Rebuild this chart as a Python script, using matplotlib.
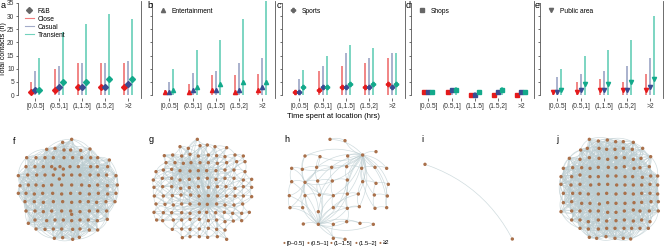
import matplotlib
matplotlib.use("Agg")
import matplotlib.pyplot as plt
import numpy as np
from matplotlib.collections import LineCollection

plt.rcParams['font.family'] = ['Liberation Sans', 'DejaVu Sans']

W, H = 667, 248

# ---- top row: contacts by time spent ----
cats = ["[0,0.5]", "(0.5,1]", "(1,1.5]", "(1.5,2]", ">2"]
venues = ["F&B", "Entertainment", "Sports", "Shops", "Public area"]
markers = ["D", "^", "P", "s", "v"]

close_med = [[1, 2, 3, 3, 3], [1, 1, 2, 1, 2], [1, 2, 3, 3, 4], [1, 1, 0, 0, 0], [1, 1, 2, 2, 2]]
close_hi = [[5, 10, 12, 12, 12], [2, 4, 7.5, 7.5, 8], [2, 9, 11, 12, 14], [1, 1, 0, 0, 0], [1, 5, 6, 5, 8]]
casual_med = [[2, 3, 3, 3, 4], [1, 2, 2, 2, 3], [1, 3, 3, 3, 3], [1, 2, 0, 1, 1], [1, 2, 2, 2, 3]]
casual_hi = [[9, 11, 12, 12, 13], [5, 8.5, 9, 12, 14], [6, 11, 16, 14, 16], [1, 2, 1, 2, 1], [7, 8, 9, 11, 14]]
trans_med = [[2, 5, 5, 6, 6], [2, 3, 4, 5, 5], [3, 3, 4, 4, 4], [1, 2, 1, 2, 1], [2, 4, 4, 5, 6]]
trans_hi = [[14, 24, 27, 31, 29], [10, 17, 21, 29, 36], [9.5, 15, 19, 18, 16], [1, 3, 1, 3, 1], [10, 15, 17, 21, 30]]

pt_cols = ["#e41a1c", "#3a4d92", "#13a98b"]
ln_cols = ["#f07c7c", "#a3abc9", "#72d2bd"]
top_lefts = [18, 152, 282, 411, 540]
panel_letters = ["a", "b", "c", "d", "e"]


def px_axes(x0, y0, x1, y1):
    return fig.add_axes([x0 / W, 1 - y1 / H, (x1 - x0) / W, (y1 - y0) / H])


fig = plt.figure(figsize=(W / 100, H / 100), dpi=100)

for k in range(5):
    ax = px_axes(top_lefts[k], 1, top_lefts[k] + 123, 98)
    x = np.arange(1, 6)
    series = [(close_med[k], close_hi[k]), (casual_med[k], casual_hi[k]), (trans_med[k], trans_hi[k])]
    for j, (med, hi) in enumerate(series):
        xs = x + (j - 1) * 0.17
        ax.vlines(xs, 0, hi, color=ln_cols[j], lw=1.3, zorder=1)
        ax.plot(xs, med, ls="none", marker=markers[k], ms=3, color=pt_cols[j], zorder=3)
    ax.set_xlim(0.25, 5.55)
    ax.set_ylim(-1.14, 35.76)
    for s in ["top", "bottom"]:
        ax.spines[s].set_visible(False)
    ax.spines["left"].set_bounds(0, 35)
    for s in ["left", "right"]:
        ax.spines[s].set_linewidth(0.6)
        ax.spines[s].set_color("#555555")
    ax.set_yticks(range(0, 36, 5))
    ax.set_xticks(x)
    ax.set_xticklabels(cats)
    ax.tick_params(length=2, width=0.5, labelsize=4.8, pad=1.5, colors="#333333")
    ax.tick_params(axis="y", length=1.8, pad=0.8)
    if k > 0:
        ax.set_yticklabels([])
    ax.plot([], [], ls="none", marker=markers[k], ms=3, color="#666666", label=venues[k])
    if k == 0:
        for j, nm in enumerate(["Close", "Casual", "Transient"]):
            ax.plot([], [], color=ln_cols[j], lw=0.8, label=nm)
    ax.legend(loc="upper left", bbox_to_anchor=(0.0, 1.0), frameon=False, fontsize=4.8,
              handlelength=1.4, handletextpad=0.6, labelspacing=0.15, borderaxespad=0.6)
    lx = 1 if k == 0 else top_lefts[k] - 5
    fig.text(lx / W, 1 - 5 / H, panel_letters[k], fontsize=6.5, va="center")

fig.text(4 / W, 1 - 49 / H, "Total contacts (n)", fontsize=5.0, rotation=90, ha="center", va="center")
fig.text(333 / W, 1 - 116 / H, "Time spent at location (hrs)", fontsize=5.5, ha="center", va="center")

# ---- bottom row: contact networks (node positions in panel units) ----
f_nodes = [(215, 43), (188, 52),
           (140, 73), (165, 70), (192, 75), (212, 75), (242, 76), (270, 72),
           (80, 98), (108, 98), (135, 98), (160, 98), (192, 98), (218, 98), (245, 98), (272, 98), (293, 98), (328, 105),
           (78, 125), (105, 125), (130, 125), (155, 125), (180, 125), (210, 125), (235, 125), (272, 125), (292, 125), (323, 125),
           (165, 132), (190, 132),
           (55, 152), (83, 150), (110, 150), (135, 150), (160, 150), (190, 150), (215, 150), (240, 150), (270, 150), (295, 150), (320, 150), (348, 152),
           (178, 162),
           (60, 182), (85, 180), (108, 180), (130, 182), (155, 180), (185, 180), (215, 180), (245, 180), (268, 182), (293, 180), (322, 182), (352, 180),
           (55, 205), (78, 205), (103, 207), (128, 205), (158, 205), (185, 207), (212, 205), (240, 205), (268, 207), (295, 205), (323, 207), (348, 205),
           (75, 230), (103, 230), (130, 232), (160, 230), (188, 230), (215, 232), (240, 230), (265, 230), (290, 232), (318, 230), (345, 230),
           (78, 258), (105, 258), (130, 260), (155, 258), (185, 258), (212, 258), (240, 260), (268, 258), (293, 258), (320, 258),
           (215, 268),
           (105, 285), (140, 287), (165, 285), (190, 285), (215, 287), (240, 285), (265, 285), (292, 287), (322, 283),
           (85, 295),
           (108, 312), (135, 313), (160, 312), (185, 312), (218, 313), (240, 312), (268, 315), (293, 315),
           (163, 340), (188, 338), (218, 343), (238, 337)]

g_nodes = [(202, 43),
           (150, 65), (175, 70), (210, 62), (232, 60), (255, 65), (290, 68),
           (103, 92), (128, 90), (155, 93), (180, 88), (205, 93), (235, 90), (260, 92), (285, 95), (315, 90), (340, 93),
           (108, 113), (135, 113), (160, 115), (183, 113), (210, 113), (235, 113), (262, 115), (290, 113), (320, 110), (345, 110),
           (78, 140), (100, 135), (125, 133), (150, 137), (180, 138), (205, 137), (230, 137), (258, 137), (285, 135), (312, 135), (345, 140),
           (70, 165), (97, 160), (125, 160), (150, 165), (178, 163), (205, 160), (232, 160), (258, 163), (285, 160), (312, 160), (340, 165), (365, 163),
           (72, 187), (98, 185), (125, 185), (152, 190), (178, 188), (205, 185), (235, 187), (262, 185), (288, 185), (315, 190), (340, 185), (365, 187),
           (73, 213), (100, 213), (127, 212), (153, 210), (182, 210), (207, 213), (235, 212), (262, 213), (290, 213), (315, 213), (340, 213), (365, 215),
           (78, 237), (105, 238), (130, 240), (155, 237), (180, 237), (208, 237), (232, 238), (260, 237), (285, 240), (312, 240), (338, 237),
           (72, 262), (100, 263), (125, 263), (155, 263), (180, 265), (208, 262), (230, 262), (257, 263), (283, 262), (308, 265), (335, 265), (358, 262),
           (80, 285), (98, 287), (130, 285), (155, 285), (180, 283), (208, 283), (235, 287), (260, 285), (285, 290), (310, 288), (335, 287),
           (127, 313), (155, 312), (180, 313), (208, 312), (235, 310), (260, 313), (285, 315),
           (157, 338), (180, 335), (208, 335), (233, 337), (262, 335), (290, 343)]

h_nodes = [(180, 43), (225, 47),
           (105, 93), (150, 95), (233, 93), (278, 90), (318, 80),
           (65, 130), (97, 133), (140, 127), (185, 127), (230, 125), (275, 130), (315, 127), (350, 130),
           (65, 170), (105, 172), (143, 168), (187, 168), (232, 165), (278, 170), (318, 175), (355, 178),
           (58, 212), (105, 212), (148, 210), (190, 212), (232, 207), (265, 207), (313, 210), (352, 213),
           (60, 248), (98, 248), (145, 260), (190, 248), (232, 250), (268, 245), (315, 250), (350, 248),
           (100, 297), (145, 298), (190, 298), (230, 290), (270, 295), (310, 298),
           (190, 340), (225, 343)]

i_nodes = [(75, 163), (337, 387)]

j_nodes = [(178, 43), (205, 48), (232, 45), (257, 50), (280, 50), (310, 52),
           (152, 75), (172, 70), (207, 70), (230, 73), (255, 73), (280, 70), (307, 73), (338, 70),
           (118, 100), (150, 103), (178, 98), (207, 100), (233, 103), (258, 98), (283, 98), (310, 103), (333, 100), (362, 95),
           (100, 130), (128, 128), (155, 128), (180, 130), (205, 127), (235, 127), (258, 128), (283, 125), (312, 130), (330, 128), (358, 125),
           (93, 155), (125, 155), (150, 150), (180, 155), (205, 155), (233, 153), (258, 153), (285, 155), (308, 155), (337, 157), (362, 153), (383, 153),
           (93, 178), (123, 180), (150, 178), (182, 180), (207, 178), (233, 178), (260, 180), (285, 180), (310, 180), (335, 180), (360, 178), (383, 180),
           (100, 205), (128, 205), (150, 205), (175, 207), (205, 207), (230, 205), (258, 207), (285, 205), (310, 207), (335, 205), (360, 205), (383, 207),
           (100, 233), (125, 230), (155, 235), (180, 235), (208, 237), (233, 233), (258, 235), (285, 235), (312, 233), (335, 232), (363, 230), (385, 230),
           (93, 260), (125, 258), (150, 258), (180, 258), (205, 258), (233, 262), (258, 262), (283, 258), (310, 255), (330, 258), (358, 258), (385, 258),
           (125, 285), (150, 285), (175, 290), (205, 285), (230, 288), (258, 287), (283, 285), (310, 288), (335, 285), (360, 290),
           (150, 310), (175, 312), (205, 312), (230, 310), (255, 310), (282, 310), (305, 310), (330, 310), (355, 310),
           (178, 337), (200, 340), (228, 335), (255, 340), (280, 340), (302, 342)]

# link radius between neighbouring nodes, and hub centres (x, y, reach)
f_link, f_hubs = 82, [(190, 180, 170), (215, 232, 160), (160, 150, 150), (245, 125, 150)]
g_link, g_hubs = 44, [(232, 238, 180), (150, 137, 120), (205, 137, 120), (180, 113, 100)]
h_link, h_hubs = 46, [(278, 90, 190), (145, 298, 170), (105, 172, 110)]
j_link, j_hubs = 82, [(233, 178, 180), (205, 207, 170), (258, 153, 160), (180, 130, 150)]

# panel origin / size in pixels
net_boxes = [(0, 125, 130, 123), (130, 125, 130, 123), (270, 125, 130, 123), (400, 110, 140, 138), (530, 125, 137, 123)]
net_letters = ["f", "g", "h", "i", "j"]
net_letter_pos = [(42, 50), (65, 45), (50, 45), (67, 90), (82, 45)]


def curve(p, q, bend=0.22, n=14):
    p, q = np.asarray(p, float), np.asarray(q, float)
    d = q - p
    c = (p + q) / 2 + bend * np.array([-d[1], d[0]])
    t = np.linspace(0, 1, n)[:, None]
    return (1 - t) ** 2 * p + 2 * (1 - t) * t * c + t ** 2 * q


def edges_for(nodes, link, hubs):
    pts = np.array(nodes, float)
    out = set()
    for a in range(len(pts)):
        for b in range(a + 1, len(pts)):
            if np.hypot(*(pts[a] - pts[b])) < link:
                out.add((a, b))
    for hx, hy, reach in hubs:
        hub = int(np.argmin(np.hypot(pts[:, 0] - hx, pts[:, 1] - hy)))
        for b in range(len(pts)):
            if b != hub and np.hypot(*(pts[b] - pts[hub])) < reach:
                out.add((min(hub, b), max(hub, b)))
    return sorted(out)


networks = [(f_nodes, f_link, f_hubs), (g_nodes, g_link, g_hubs), (h_nodes, h_link, h_hubs),
            (i_nodes, 1000, []), (j_nodes, j_link, j_hubs)]

for k, (nodes, link, hubs) in enumerate(networks):
    x0, y0, w, h = net_boxes[k]
    ax = px_axes(x0, y0, x0 + w, y0 + h)
    ax.set_xlim(0, w * 3)
    ax.set_ylim(h * 3, 0)
    ax.axis("off")
    segs = []
    for a, b in edges_for(nodes, link, hubs):
        bend = 0.22 if (a + b) % 2 == 0 else -0.22
        if k == 3:
            bend = -0.2
        segs.append(curve(nodes[a], nodes[b], bend))
    ax.add_collection(LineCollection(segs, colors="#bccdd1", linewidths=0.5, alpha=0.7, zorder=1))
    xs, ys = zip(*nodes)
    ax.scatter(xs, ys, s=6, color="#a9704a", edgecolors="none", zorder=2)
    lx, ly = net_letter_pos[k]
    ax.text(lx, ly, net_letters[k], fontsize=6.5, ha="center", va="center")

# legend under panel h
bins = ["[0\u20130.5]", "(0.5\u20131]", "(1\u20131.5]", "(1.5\u20132]", "\u22652"]
leg_x = [284, 308, 331, 356, 380]
for bx, lab in zip(leg_x, bins):
    fig.text(bx / W, 1 - 243 / H, "\u25cf", fontsize=3.5, color="#a9704a", ha="center", va="center")
    fig.text((bx + 3) / W, 1 - 243 / H, lab, fontsize=4.2, ha="left", va="center")

fig.savefig("out.png", dpi=100)
